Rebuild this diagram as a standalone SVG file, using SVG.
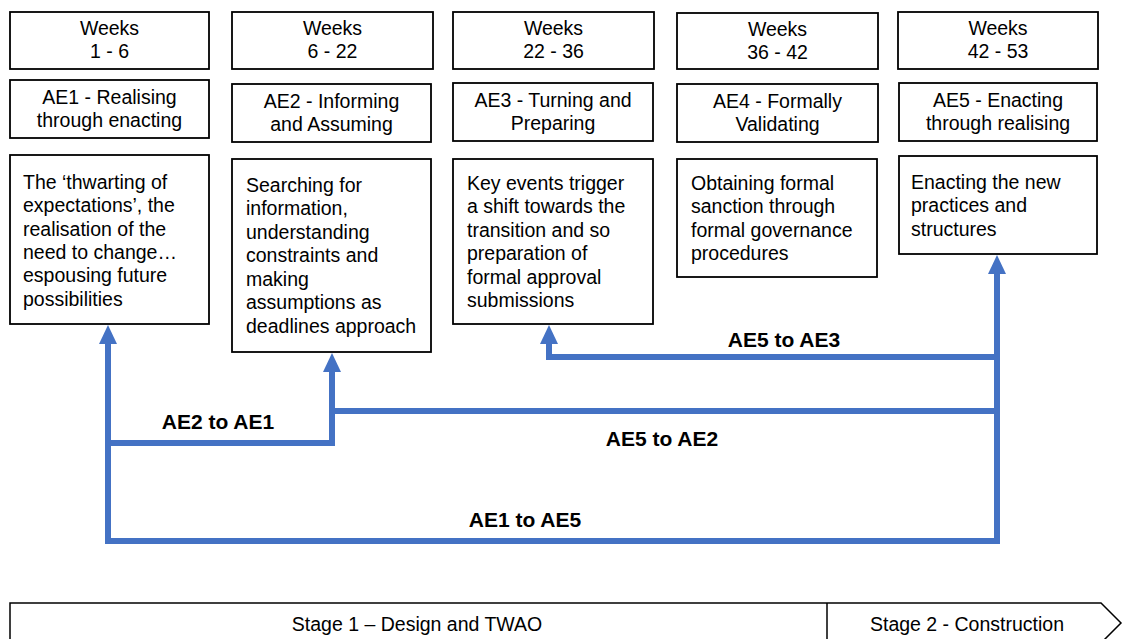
<svg xmlns="http://www.w3.org/2000/svg" width="1124" height="639" viewBox="0 0 1124 639">
  <style>
    .box { fill: #ffffff; stroke: #000000; stroke-width: 1.8; }
    .t { font-family: "Liberation Sans", Arial, sans-serif; font-size: 19.5px; fill: #000000; }
    .c { text-anchor: middle; }
    .lbl { font-family: "Liberation Sans", Arial, sans-serif; font-size: 21px; font-weight: bold; fill: #000000; text-anchor: middle; }
    .link { fill: none; stroke: #4472C4; stroke-width: 6; stroke-linejoin: miter; marker-end: url(#head); }
  </style>
  <defs>
    <marker id="head" markerUnits="userSpaceOnUse" markerWidth="20" markerHeight="20" viewBox="0 0 20 20" refX="2" refY="10" orient="auto">
      <path d="M0,1 L19,10 L0,19 Z" fill="#4472C4"/>
    </marker>
  </defs>

  <rect width="1124" height="639" fill="#ffffff"/>

  <!-- connectors -->
  <g id="connectors">
    <path id="ae1-to-ae5" class="link" d="M108,443 V541 H997 V272"/>
    <path id="ae2-to-ae1" class="link" d="M332,411 V443 H108 V342"/>
    <path id="ae5-to-ae2" class="link" d="M997,411 H332 V370"/>
    <path id="ae5-to-ae3" class="link" d="M997,357 H549 V342"/>
    <text class="lbl" x="784" y="347">AE5 to AE3</text>
    <text class="lbl" x="662" y="446">AE5 to AE2</text>
    <text class="lbl" x="218" y="429">AE2 to AE1</text>
    <text class="lbl" x="525" y="527">AE1 to AE5</text>
  </g>

  <!-- week ranges -->
  <g id="weeks-1">
    <rect class="box" x="10" y="12" width="199" height="57"/>
    <text class="t c" x="109.5" y="35">Weeks</text>
    <text class="t c" x="109.5" y="58">1 - 6</text>
  </g>
  <g id="weeks-2">
    <rect class="box" x="232" y="12" width="201" height="57"/>
    <text class="t c" x="332.5" y="35">Weeks</text>
    <text class="t c" x="332.5" y="58">6 - 22</text>
  </g>
  <g id="weeks-3">
    <rect class="box" x="453" y="12" width="201" height="57"/>
    <text class="t c" x="553.5" y="35">Weeks</text>
    <text class="t c" x="553.5" y="58">22 - 36</text>
  </g>
  <g id="weeks-4">
    <rect class="box" x="677" y="13" width="201" height="56"/>
    <text class="t c" x="777.5" y="36">Weeks</text>
    <text class="t c" x="777.5" y="59">36 - 42</text>
  </g>
  <g id="weeks-5">
    <rect class="box" x="898" y="12" width="200" height="57"/>
    <text class="t c" x="998" y="35">Weeks</text>
    <text class="t c" x="998" y="58">42 - 53</text>
  </g>

  <!-- activity headings -->
  <g id="ae1">
    <rect class="box" x="10" y="80" width="199" height="58"/>
    <text class="t c" x="109.5" y="104">AE1 - Realising</text>
    <text class="t c" x="109.5" y="127">through enacting</text>
  </g>
  <g id="ae2">
    <rect class="box" x="232" y="84" width="199" height="58"/>
    <text class="t c" x="331.5" y="108">AE2 - Informing</text>
    <text class="t c" x="331.5" y="131">and Assuming</text>
  </g>
  <g id="ae3">
    <rect class="box" x="453" y="83" width="200" height="58"/>
    <text class="t c" x="553" y="107">AE3 - Turning and</text>
    <text class="t c" x="553" y="130">Preparing</text>
  </g>
  <g id="ae4">
    <rect class="box" x="677" y="84" width="201" height="58"/>
    <text class="t c" x="777.5" y="108">AE4 - Formally</text>
    <text class="t c" x="777.5" y="131">Validating</text>
  </g>
  <g id="ae5">
    <rect class="box" x="899" y="83" width="198" height="58"/>
    <text class="t c" x="998" y="107">AE5 - Enacting</text>
    <text class="t c" x="998" y="130">through realising</text>
  </g>

  <!-- descriptions -->
  <g id="desc-1">
    <rect class="box" x="10" y="155" width="199" height="169"/>
    <text class="t" x="23" y="189">The ‘thwarting of</text>
    <text class="t" x="23" y="212">expectations’, the</text>
    <text class="t" x="23" y="236">realisation of the</text>
    <text class="t" x="23" y="259">need to change…</text>
    <text class="t" x="23" y="282">espousing future</text>
    <text class="t" x="23" y="306">possibilities</text>
  </g>
  <g id="desc-2">
    <rect class="box" x="232" y="159" width="199" height="193"/>
    <text class="t" x="246" y="192">Searching for</text>
    <text class="t" x="246" y="215">information,</text>
    <text class="t" x="246" y="239">understanding</text>
    <text class="t" x="246" y="262">constraints and</text>
    <text class="t" x="246" y="286">making</text>
    <text class="t" x="246" y="309">assumptions as</text>
    <text class="t" x="246" y="333">deadlines approach</text>
  </g>
  <g id="desc-3">
    <rect class="box" x="453" y="159" width="200" height="165"/>
    <text class="t" x="467" y="190">Key events trigger</text>
    <text class="t" x="467" y="213">a shift towards the</text>
    <text class="t" x="467" y="237">transition and so</text>
    <text class="t" x="467" y="260">preparation of</text>
    <text class="t" x="467" y="284">formal approval</text>
    <text class="t" x="467" y="307">submissions</text>
  </g>
  <g id="desc-4">
    <rect class="box" x="677" y="159" width="200" height="118"/>
    <text class="t" x="691" y="190">Obtaining formal</text>
    <text class="t" x="691" y="213">sanction through</text>
    <text class="t" x="691" y="237">formal governance</text>
    <text class="t" x="691" y="260">procedures</text>
  </g>
  <g id="desc-5">
    <rect class="box" x="899" y="156" width="198" height="98"/>
    <text class="t" x="911" y="189">Enacting the new</text>
    <text class="t" x="911" y="212">practices and</text>
    <text class="t" x="911" y="236">structures</text>
  </g>

  <!-- project stages -->
  <g id="stages">
    <path d="M10,603 H1101 L1121,623 L1101,643 H10 Z" fill="#ffffff" stroke="#000000" stroke-width="1.5"/>
    <line x1="827" y1="603" x2="827" y2="643" stroke="#000000" stroke-width="1.5"/>
    <text class="t c" x="417" y="631">Stage 1 – Design and TWAO</text>
    <text class="t c" x="967" y="631">Stage 2 - Construction</text>
  </g>
</svg>
